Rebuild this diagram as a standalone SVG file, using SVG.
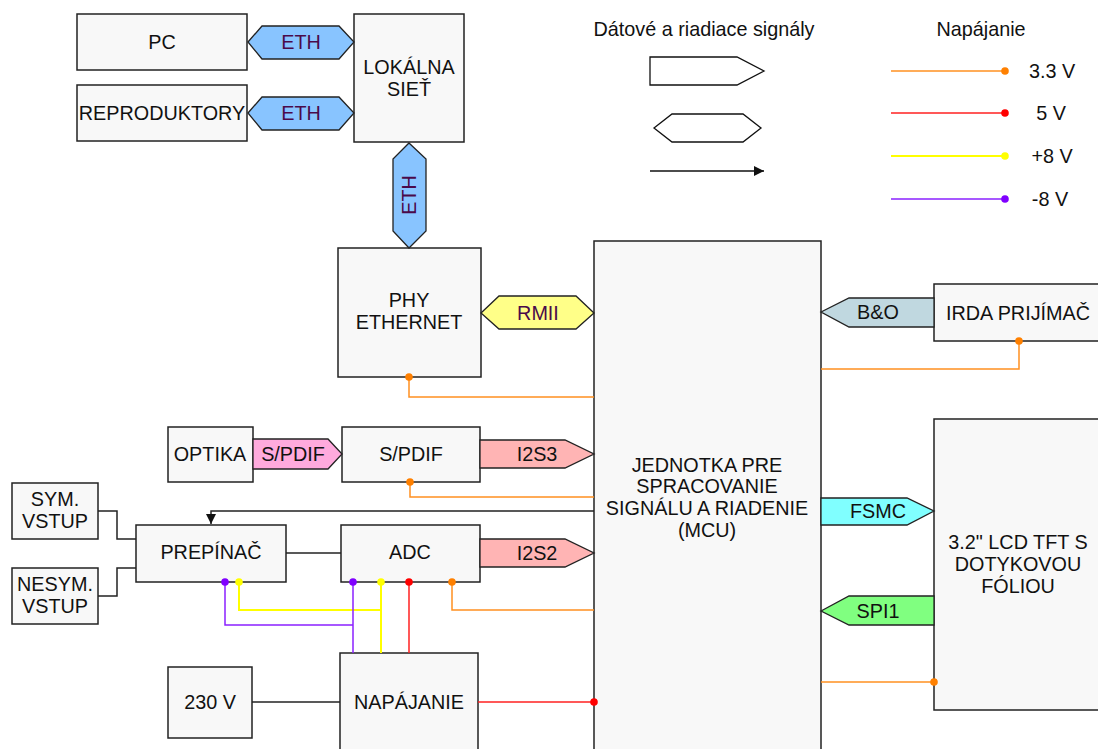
<svg xmlns="http://www.w3.org/2000/svg" width="1098" height="749" viewBox="0 0 1098 749">
<defs>
<style>
.box{fill:#f8f8f8;stroke:#222;stroke-width:1.5}
.t{font-family:"Liberation Sans",Arial,sans-serif;font-size:19.8px;fill:#111;text-anchor:middle}
.lbl{font-family:"Liberation Sans",Arial,sans-serif;font-size:19.8px;fill:#111;text-anchor:middle}
.pl{font-family:"Liberation Sans",Arial,sans-serif;font-size:19.8px;fill:#4a0a4a;text-anchor:middle}
.sig{stroke:#222;stroke-width:1.3}
.wire{fill:none;stroke:#222;stroke-width:1.5}
.p33{fill:none;stroke:#ff9020;stroke-width:1.5}
.p5{fill:none;stroke:#ff2020;stroke-width:1.5}
.p8{fill:none;stroke:#ffff00;stroke-width:2}
.pm8{fill:none;stroke:#8a20ff;stroke-width:1.5}
</style>
<marker id="arr" viewBox="0 0 10 10" refX="10" refY="5" markerWidth="10" markerHeight="10" markerUnits="userSpaceOnUse" orient="auto">
<path d="M0,0 L10,5 L0,10 z" fill="#111"/>
</marker>
</defs>
<rect width="1098" height="749" fill="#ffffff"/>

<g id="pc"><rect class="box" x="77" y="14" width="170" height="56"/><text class="t" x="162" y="49">PC</text></g>
<g id="repro"><rect class="box" x="77" y="85" width="170" height="56"/><text class="t" x="162" y="120">REPRODUKTORY</text></g>
<g id="lan"><rect class="box" x="354" y="14" width="110" height="128"/><text class="t" x="409" y="74">LOKÁLNA</text><text class="t" x="409" y="96">SIEŤ</text></g>
<g id="phy"><rect class="box" x="338" y="248" width="143" height="129"/><text class="t" x="409" y="307">PHY</text><text class="t" x="409" y="329">ETHERNET</text></g>
<g id="mcu"><rect class="box" x="594" y="241" width="227" height="520"/><text class="t" x="707" y="472">JEDNOTKA PRE</text><text class="t" x="707" y="493">SPRACOVANIE</text><text class="t" x="707" y="515">SIGNÁLU A RIADENIE</text><text class="t" x="707" y="537">(MCU)</text></g>
<g id="irda"><rect class="box" x="934" y="284" width="180" height="57"/><text class="t" x="1018" y="320">IRDA PRIJÍMAČ</text></g>
<g id="lcd"><rect class="box" x="934" y="419" width="180" height="291"/><text class="t" x="1018" y="549">3.2" LCD TFT S</text><text class="t" x="1018" y="571">DOTYKOVOU</text><text class="t" x="1018" y="593">FÓLIOU</text></g>
<g id="optika"><rect class="box" x="168" y="427" width="85" height="55"/><text class="t" x="210" y="461">OPTIKA</text></g>
<g id="spdifbox"><rect class="box" x="342" y="427" width="138" height="55"/><text class="t" x="411" y="461">S/PDIF</text></g>
<g id="sym"><rect class="box" x="12" y="483" width="86" height="56"/><text class="t" x="55" y="506">SYM.</text><text class="t" x="55" y="528">VSTUP</text></g>
<g id="nesym"><rect class="box" x="12" y="568" width="86" height="56"/><text class="t" x="55" y="591">NESYM.</text><text class="t" x="55" y="613">VSTUP</text></g>
<g id="prepinac"><rect class="box" x="136" y="525" width="150" height="57"/><text class="t" x="211" y="559">PREPÍNAČ</text></g>
<g id="adc"><rect class="box" x="341" y="525" width="139" height="57"/><text class="t" x="410" y="559">ADC</text></g>
<g id="v230"><rect class="box" x="168" y="667" width="84" height="71"/><text class="t" x="210" y="709">230 V</text></g>
<g id="napajanie"><rect class="box" x="340" y="653" width="138" height="110"/><text class="t" x="409" y="709">NAPÁJANIE</text></g>

<g id="connectors">
<polyline class="wire" points="98,511 117,511 117,539 136,539"/>
<polyline class="wire" points="98,596 117,596 117,568 136,568"/>
<line class="wire" x1="286" y1="553" x2="341" y2="553"/>
<line class="wire" x1="252" y1="702" x2="340" y2="702"/>
<polyline class="wire" points="594,511 211,511 211,524" marker-end="url(#arr)"/>
<polyline class="p33" points="409,377 409,397 594,397"/>
<polyline class="p33" points="410,482 410,497 594,497"/>
<polyline class="p33" points="452,582 452,610 594,610"/>
<polyline class="p33" points="1019,341 1019,369 821,369"/>
<line class="p33" x1="934" y1="682" x2="821" y2="682"/>
<polyline class="p8" points="239,582 239,610 381,610"/>
<line class="p8" x1="381" y1="582" x2="381" y2="653"/>
<polyline class="pm8" points="225,582 225,625 353,625"/>
<line class="pm8" x1="353" y1="582" x2="353" y2="653"/>
<line class="p5" x1="409" y1="582" x2="409" y2="653"/>
<line class="p5" x1="478" y1="702" x2="594" y2="702"/>
<circle cx="409" cy="377" r="3.8" fill="#ff8000"/>
<circle cx="410" cy="482" r="3.8" fill="#ff8000"/>
<circle cx="452" cy="582" r="3.8" fill="#ff8000"/>
<circle cx="1019" cy="341" r="3.8" fill="#ff8000"/>
<circle cx="934" cy="682" r="3.8" fill="#ff8000"/>
<circle cx="239" cy="582" r="3.8" fill="#ffff00"/>
<circle cx="381" cy="582" r="3.8" fill="#ffff00"/>
<circle cx="225" cy="582" r="3.8" fill="#8000ff"/>
<circle cx="353" cy="582" r="3.8" fill="#8000ff"/>
<circle cx="409" cy="582" r="3.8" fill="#ff0000"/>
<circle cx="594" cy="702" r="3.8" fill="#ff0000"/>

<g id="eth1"><polygon class="sig" fill="#88c4ff" points="248,42 262,26 339,26 354,42 339,59 262,59"/><text class="pl" x="301" y="49">ETH</text></g>
<g id="eth2"><polygon class="sig" fill="#88c4ff" points="248,113 262,97 339,97 354,113 339,130 262,130"/><text class="pl" x="301" y="120">ETH</text></g>
<g id="eth3"><polygon class="sig" fill="#88c4ff" points="409,143 426,159 426,231 409,248 393,231 393,159"/><text class="pl" transform="translate(416,195) rotate(-90)" x="0" y="0">ETH</text></g>
<g id="rmii"><polygon class="sig" fill="#ffff88" points="481,313 499,296 576,296 594,313 576,329 499,329"/><text class="pl" x="538" y="320">RMII</text></g>
<g id="spdif"><polygon class="sig" fill="#ffaadd" points="253,439 328,439 342,454 328,469 253,469"/><text class="lbl" x="293" y="461">S/PDIF</text></g>
<g id="i2s3"><polygon class="sig" fill="#ffb4b4" points="480,440 565,440 594,454 565,468 480,468"/><text class="lbl" x="537" y="461">I2S3</text></g>
<g id="i2s2"><polygon class="sig" fill="#ffb4b4" points="480,539 565,539 594,553 565,567 480,567"/><text class="lbl" x="537" y="560">I2S2</text></g>
<g id="bo"><polygon class="sig" fill="#c0d8e0" points="821,312 849,298 934,298 934,327 849,327"/><text class="lbl" x="878" y="319">B&amp;O</text></g>
<g id="fsmc"><polygon class="sig" fill="#80ffff" points="821,498 907,498 934,511 907,525 821,525"/><text class="lbl" x="878" y="518">FSMC</text></g>
<g id="spi1"><polygon class="sig" fill="#80ff80" points="821,611 849,596 934,596 934,625 849,625"/><text class="lbl" x="878" y="618">SPI1</text></g>
</g>

<g id="legend">
<text class="t" x="704" y="36">Dátové a riadiace signály</text>
<polygon fill="#ffffff" stroke="#111" stroke-width="1.3" points="650,57 737,57 764,71 737,85 650,85"/>
<polygon fill="#ffffff" stroke="#111" stroke-width="1.3" points="654,128 672,114 743,114 761,128 743,142 672,142"/>
<line x1="650" y1="171" x2="764" y2="171" stroke="#111" stroke-width="1.3" marker-end="url(#arr)"/>
<text class="t" x="981" y="36">Napájanie</text>
<line class="p33" x1="891" y1="71" x2="1005" y2="71"/><circle cx="1005" cy="71" r="3.8" fill="#ff8000"/>
<line class="p5" x1="891" y1="113" x2="1005" y2="113"/><circle cx="1005" cy="113" r="3.8" fill="#ff0000"/>
<line class="p8" x1="891" y1="156" x2="1005" y2="156"/><circle cx="1005" cy="156" r="3.8" fill="#ffff00"/>
<line class="pm8" x1="891" y1="199" x2="1005" y2="199"/><circle cx="1005" cy="199" r="3.8" fill="#8000ff"/>
<text class="t" x="1052" y="78">3.3 V</text>
<text class="t" x="1051" y="120">5 V</text>
<text class="t" x="1052" y="163">+8 V</text>
<text class="t" x="1050" y="206">-8 V</text>
</g>
</svg>
